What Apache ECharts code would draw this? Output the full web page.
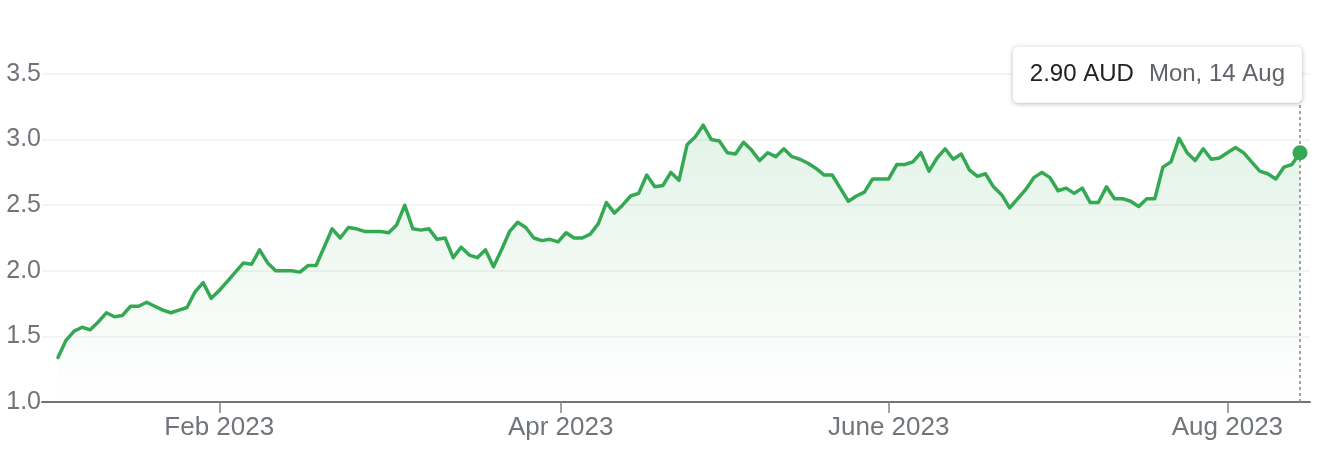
<!DOCTYPE html>
<html><head><meta charset="utf-8">
<script src="https://cdn.jsdelivr.net/npm/echarts@6/dist/echarts.min.js"></script>
<style>html,body{margin:0;padding:0;background:#fff}#c{width:1326px;height:470px}</style>
</head><body><div id="c"></div>
<script>
// ---- data ----
const startDate = '2023-01-03';
const endDate = '2023-08-14';
const holidays = ['2023-01-26', '2023-04-07', '2023-04-10', '2023-04-25', '2023-06-12'];
const prices = [
  1.34, 1.47, 1.54, 1.57, 1.55, 1.61, 1.68, 1.65, 1.66, 1.73,
  1.73, 1.76, 1.73, 1.70, 1.68, 1.70, 1.72, 1.84, 1.91, 1.79,
  1.85, 1.92, 1.99, 2.06, 2.05, 2.16, 2.06, 2.00, 2.00, 2.00,
  1.99, 2.04, 2.04, 2.18, 2.32, 2.25, 2.33, 2.32, 2.30, 2.30,
  2.30, 2.29, 2.35, 2.50, 2.32, 2.31, 2.32, 2.24, 2.25, 2.10,
  2.18, 2.12, 2.10, 2.16, 2.03, 2.16, 2.30, 2.37, 2.33, 2.25,
  2.23, 2.24, 2.22, 2.29, 2.25, 2.25, 2.28, 2.36, 2.52, 2.44,
  2.50, 2.57, 2.59, 2.73, 2.64, 2.65, 2.75, 2.69, 2.96, 3.02,
  3.11, 3.00, 2.99, 2.90, 2.89, 2.98, 2.92, 2.84, 2.90, 2.87,
  2.93, 2.87, 2.85, 2.82, 2.78, 2.73, 2.73, 2.63, 2.53, 2.57,
  2.60, 2.70, 2.70, 2.70, 2.81, 2.81, 2.83, 2.90, 2.76, 2.86,
  2.93, 2.85, 2.89, 2.77, 2.72, 2.74, 2.64, 2.58, 2.48, 2.55,
  2.62, 2.71, 2.75, 2.71, 2.61, 2.63, 2.59, 2.63, 2.52, 2.52,
  2.64, 2.55, 2.55, 2.53, 2.49, 2.55, 2.55, 2.79, 2.83, 3.01,
  2.90, 2.84, 2.93, 2.85, 2.86, 2.90, 2.94, 2.90, 2.83, 2.76,
  2.74, 2.70, 2.79, 2.81, 2.90
];
const tickDates = ['2023-02-01', '2023-04-01', '2023-06-01', '2023-08-01'];
const tickLabels = ['Feb 2023', 'Apr 2023', 'June 2023', 'Aug 2023'];
const yMin = 1.0, yMax = 3.5, yStep = 0.5;
const currency = 'AUD';

// ---- helpers ----
const DAY = 86400000;
const toUTC = s => Date.parse(s + 'T00:00:00Z');
function tradingDays(a, b, hol) {
  const out = [];
  for (let t = toUTC(a); t <= toUTC(b); t += DAY) {
    const d = new Date(t);
    const wd = d.getUTCDay();
    const iso = d.toISOString().slice(0, 10);
    if (wd === 0 || wd === 6 || hol.includes(iso)) continue;
    out.push(iso);
  }
  return out;
}
const dates = tradingDays(startDate, endDate, holidays);
function datePos(s) {
  const t = toUTC(s);
  for (let j = 0; j < dates.length; j++) {
    const tj = toUTC(dates[j]);
    if (tj === t) return j;
    if (tj > t) {
      const tp = toUTC(dates[j - 1]);
      return j - 1 + (t - tp) / (tj - tp);
    }
  }
  return dates.length - 1;
}
const tickPos = tickDates.map(datePos);
const WD = ['Sun', 'Mon', 'Tue', 'Wed', 'Thu', 'Fri', 'Sat'];
const MO = ['Jan', 'Feb', 'Mar', 'Apr', 'May', 'Jun', 'Jul', 'Aug', 'Sep', 'Oct', 'Nov', 'Dec'];
function fmtDate(s) {
  const d = new Date(toUTC(s));
  return WD[d.getUTCDay()] + ', ' + d.getUTCDate() + ' ' + MO[d.getUTCMonth()];
}
const last = prices.length - 1;
const seriesData = prices.map((v, i) => [i, v]);
const FONT = '"Liberation Sans", Arial, Helvetica, sans-serif';
const GREEN = '#34a853';

const chart = echarts.init(document.getElementById('c'), null, { renderer: 'canvas' });
chart.setOption({
  animation: false,
  backgroundColor: '#fff',
  textStyle: { fontFamily: FONT },
  grid: { left: 42, right: 16, top: 74, bottom: 68, containLabel: false },
  xAxis: {
    type: 'value',
    min: -1.98,
    max: last + 1.24,
    axisLine: { show: true, lineStyle: { color: '#70757a', width: 2 } },
    axisTick: { show: true, customValues: tickPos, length: 11, lineStyle: { color: '#80868b', width: 1.5 } },
    axisLabel: {
      customValues: tickPos,
      formatter: v => { const k = tickPos.findIndex(p => Math.abs(p - v) < 1e-6); return k >= 0 ? tickLabels[k] : ''; },
      color: '#70757a', fontSize: 26, fontFamily: FONT, margin: 13
    },
    splitLine: { show: false }
  },
  yAxis: {
    type: 'value',
    min: yMin, max: yMax, interval: yStep,
    axisLine: { show: false },
    axisTick: { show: false },
    axisLabel: { color: '#70757a', fontSize: 25, fontFamily: FONT, margin: 1, formatter: v => v.toFixed(1) },
    splitLine: { show: true, lineStyle: { color: '#f1f1f1', width: 1.5 } }
  },
  series: [{
    type: 'line',
    data: seriesData,
    showSymbol: false,
    symbol: 'none',
    z: 3,
    lineStyle: { color: GREEN, width: 3.5, join: 'round', cap: 'round' },
    areaStyle: {
      color: new echarts.graphic.LinearGradient(0, 0, 0, 1, [
        { offset: 0, color: 'rgba(52,168,83,0.20)' },
        { offset: 1, color: 'rgba(52,168,83,0.00)' }
      ])
    },
    markLine: {
      silent: true,
      symbol: ['none', 'none'],
      label: { show: false },
      lineStyle: { color: '#80868b', type: [3, 3], width: 1.5 },
      data: [{ xAxis: last }]
    },
    markPoint: {
      silent: true,
      symbol: 'circle',
      symbolSize: 15,
      itemStyle: { color: GREEN },
      label: {
        show: true,
        position: [9.5, -98.5],
        align: 'right',
        verticalAlign: 'top',
        backgroundColor: '#fff',
        borderRadius: 5,
        padding: [16, 17, 16, 17],
        shadowColor: 'rgba(0,0,0,0.28)',
        shadowBlur: 5,
        shadowOffsetY: 1,
        formatter: () => '{a|' + prices[last].toFixed(2) + ' ' + currency + '}{b|' + fmtDate(dates[last]) + '}',
        rich: {
          a: { color: '#202124', fontSize: 24, fontFamily: FONT, lineHeight: 24, padding: [0, 15, 0, 0] },
          b: { color: '#5f6368', fontSize: 24, fontFamily: FONT, lineHeight: 24 }
        }
      },
      data: [{ coord: [last, prices[last]] }]
    }
  }]
});
</script></body></html>
